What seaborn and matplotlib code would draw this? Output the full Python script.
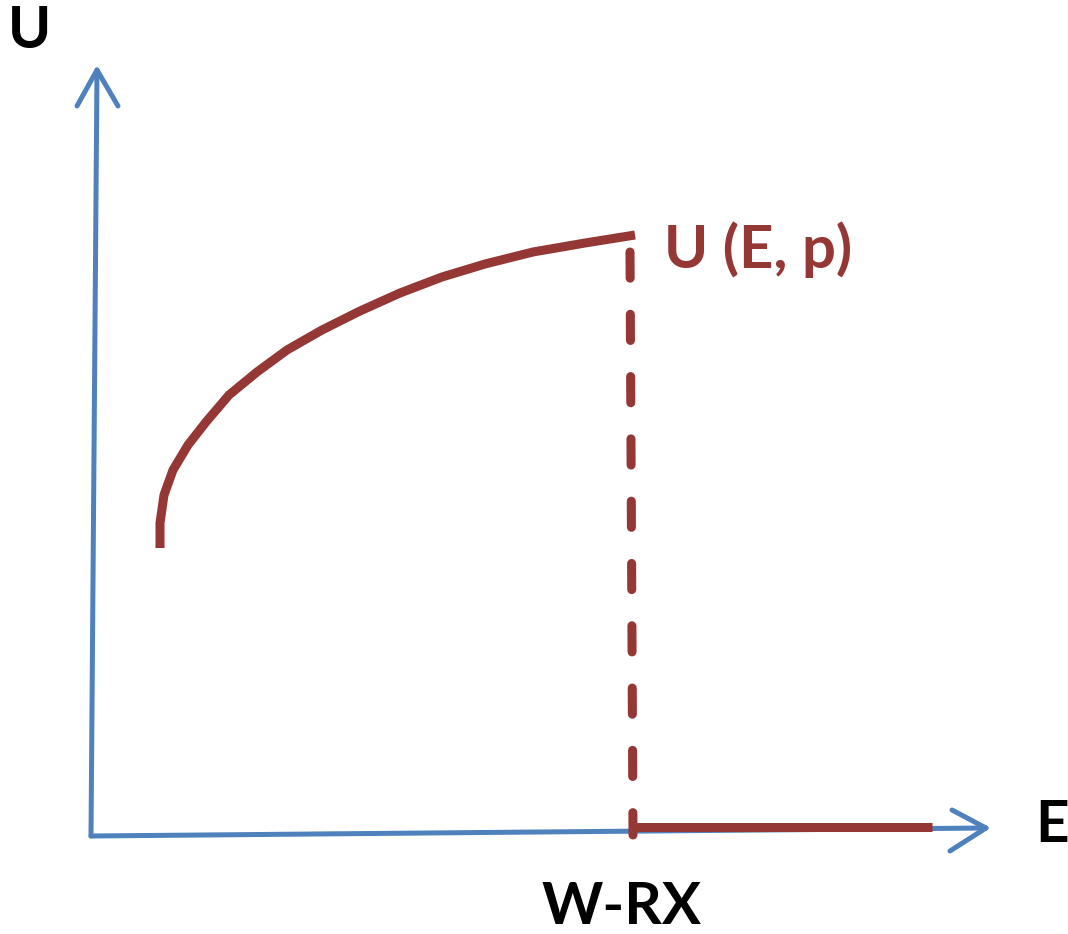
import numpy as np
import pandas as pd
import matplotlib
matplotlib.use("Agg")
import matplotlib.pyplot as plt
import seaborn as sns

sns.set_theme(style="white")
plt.rcParams['font.family'] = ['Lato', 'DejaVu Sans']

# sketch in picture units (x right, y down)
curve_x = [160, 160, 164, 173, 188, 206, 229, 257, 287, 322, 360, 400, 442, 485, 533, 585, 635]
curve_y = [548, 523, 495, 470, 445, 422, 395, 372, 350, 330, 311, 293, 277, 264, 252, 243, 235]

drop_x = [630, 633]
drop_y = [252, 835]

floor_x = [633, 932]
floor_y = [827, 827]

yaxis_x = [91, 97]
yaxis_y = [836, 70]
xaxis_x = [91, 986]
xaxis_y = [836, 828]
uhead_x = [77, 97, 118]
uhead_y = [106, 70, 106]
ehead_x = [952, 986, 950]
ehead_y = [810, 828, 851]

labels = ["U", "E", "W-RX", "U (E, p)"]

blue = "#4F81BD"
red = "#953735"

fig = plt.figure(figsize=(10.68, 9.34), dpi=100)
ax = fig.add_axes([0, 0, 1, 1])
ax.set_xlim(0, 1068)
ax.set_ylim(934, 0)
ax.axis("off")

# axes arrows
for xs, ys in [(yaxis_x, yaxis_y), (xaxis_x, xaxis_y), (uhead_x, uhead_y), (ehead_x, ehead_y)]:
    ax.plot(xs, ys, color=blue, lw=3.6, solid_capstyle="round", solid_joinstyle="round")

# utility curve
curve = pd.DataFrame({"E": curve_x, "U": curve_y})
sns.lineplot(data=curve, x="E", y="U", sort=False, estimator=None, color=red, lw=6.5, ax=ax,
             solid_capstyle="butt")

ax.plot(drop_x, drop_y, color=red, lw=6.5, linestyle=(0, (2.9, 4.0)),
        dash_capstyle="round")
ax.plot(floor_x, floor_y, color=red, lw=6.5, solid_capstyle="butt")

ax.text(30, 32, labels[0], fontsize=42, fontweight="bold", color="black", ha="center", va="center")
ax.text(1052, 826, labels[1], fontsize=42, fontweight="bold", color="black", ha="center", va="center")
ax.text(622, 908, labels[2], fontsize=42, fontweight="bold", color="black", ha="center", va="center")
ax.text(664, 250, labels[3], fontsize=43, fontweight="bold", color=red, ha="left", va="center")

fig.savefig("out.png", dpi=100)
